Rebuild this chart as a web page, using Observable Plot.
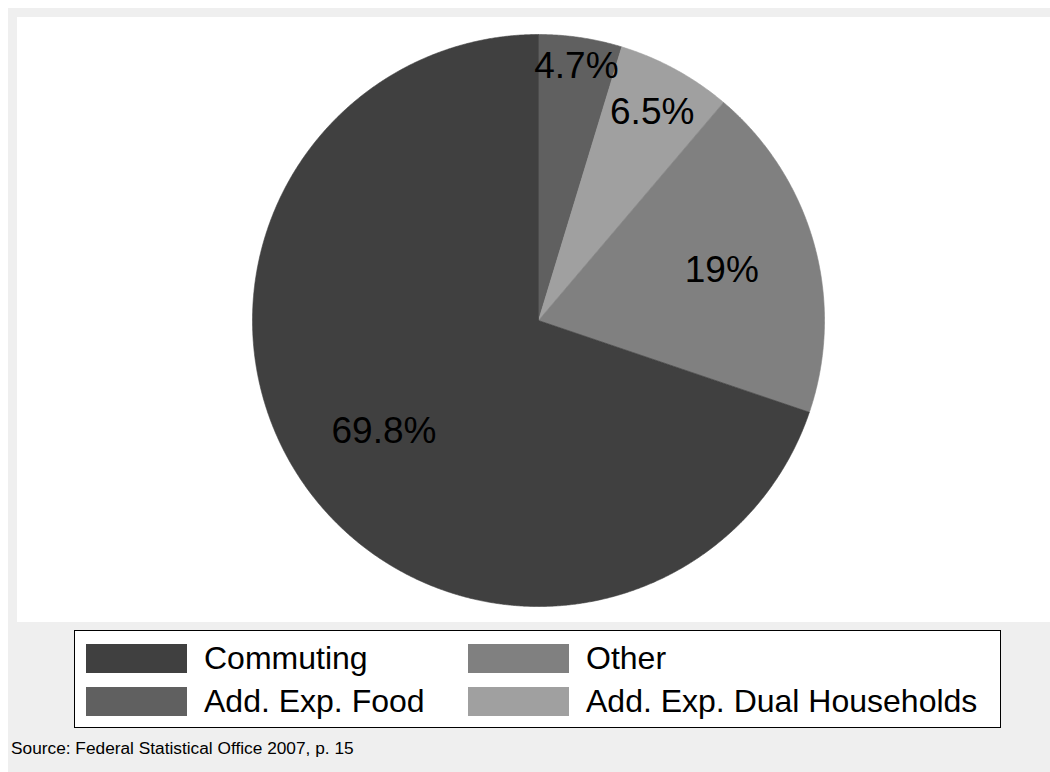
<!DOCTYPE html>
<html>
<head>
<meta charset="utf-8">
<script src="https://cdn.jsdelivr.net/npm/d3@7"></script>
<script src="https://cdn.jsdelivr.net/npm/@observablehq/plot@0.6"></script>
<style>
  html, body { margin: 0; padding: 0; background: #ffffff; width: 1050px; height: 772px; overflow: hidden;
    font-family: "Liberation Sans", Arial, Helvetica, sans-serif; }
  #frame { position: absolute; left: 8px; top: 8px; width: 1042px; height: 764px; background: #efefef; }
  #plot { position: absolute; left: 9px; top: 9px; width: 1033px; height: 605px; background: #ffffff; }
  #plot svg { display: block; }
  #legend { position: absolute; left: 66px; top: 622px; width: 927px; height: 98px; box-sizing: border-box;
    border: 1.5px solid #000; background: #ffffff; }
  .item { position: absolute; height: 30px; display: flex; align-items: center; }
  .sw { width: 101px; height: 29px; margin-right: 17px; flex: none; }
  .lab { font-size: 32px; color: #000; white-space: nowrap; line-height: 30px; }
  #source { position: absolute; left: 3px; top: 730px; font-size: 17.3px; color: #000; white-space: nowrap; }
</style>
</head>
<body>
<div id="frame">
  <div id="plot"></div>
  <div id="legend"></div>
  <div id="source"></div>
</div>
<script>
// ---- data ----
const categories = ["Add. Exp. Food", "Add. Exp. Dual Households", "Other", "Commuting"];
const shares = [4.7, 6.5, 19.0, 69.8];
const labels = ["4.7%", "6.5%", "19%", "69.8%"];
const legendOrder = ["Commuting", "Other", "Add. Exp. Food", "Add. Exp. Dual Households"];
const colors = ["#606060", "#a0a0a0", "#808080", "#404040"];
const sourceText = "Source: Federal Statistical Office 2007, p. 15";

// ---- layout config (not data) ----
const labelRadius = {"Add. Exp. Food": 0.9, "Add. Exp. Dual Households": 0.83, "Other": 0.665, "Commuting": 0.665};

// ---- pie geometry (unit circle, clockwise from 12 o'clock) ----
const arcs = d3.pie().sort(null).value(d => d)(shares);
const vertices = [];
arcs.forEach((a, i) => {
  const cat = categories[i];
  vertices.push({category: cat, x: 0, y: 0});
  const n = Math.max(2, Math.ceil((a.endAngle - a.startAngle) / (Math.PI / 720)));
  for (let k = 0; k <= n; ++k) {
    const t = a.startAngle + (a.endAngle - a.startAngle) * k / n;
    vertices.push({category: cat, x: Math.sin(t), y: Math.cos(t)});
  }
  vertices.push({category: cat, x: 0, y: 0});
});
const labelPts = arcs.map((a, i) => {
  const m = (a.startAngle + a.endAngle) / 2;
  const r = labelRadius[categories[i]];
  return {category: categories[i], label: labels[i], x: r * Math.sin(m), y: r * Math.cos(m)};
});

const chart = Plot.plot({
  width: 1033,
  height: 605,
  marginLeft: 235,
  marginRight: 226,
  marginTop: 17,
  marginBottom: 16,
  x: {domain: [-1, 1], axis: null},
  y: {domain: [-1, 1], axis: null},
  color: {domain: categories, range: colors},
  style: {background: "#ffffff", fontFamily: "'Liberation Sans', Arial, Helvetica, sans-serif"},
  marks: [
    Plot.line(vertices, {x: "x", y: "y", z: "category", fill: "category", stroke: "category",
      strokeWidth: 0.6, curve: "linear"}),
    Plot.text(labelPts, {x: "x", y: "y", text: "label", fontSize: 37, fill: "#000",
      textAnchor: "middle", lineAnchor: "middle"})
  ]
});
document.getElementById("plot").appendChild(chart);

// ---- legend ----
const legend = document.getElementById("legend");
const colorOf = Object.fromEntries(categories.map((c, i) => [c, colors[i]]));
const colLeft = [11, 393];
const rowTop = [12, 55];
legendOrder.forEach((c, i) => {
  const item = document.createElement("div");
  item.className = "item";
  item.style.left = colLeft[i % 2] + "px";
  item.style.top = rowTop[Math.floor(i / 2)] + "px";
  const sw = document.createElement("div");
  sw.className = "sw";
  sw.style.background = colorOf[c];
  const lab = document.createElement("span");
  lab.className = "lab";
  lab.textContent = c;
  item.appendChild(sw);
  item.appendChild(lab);
  legend.appendChild(item);
});
document.getElementById("source").textContent = sourceText;
</script>
</body>
</html>
